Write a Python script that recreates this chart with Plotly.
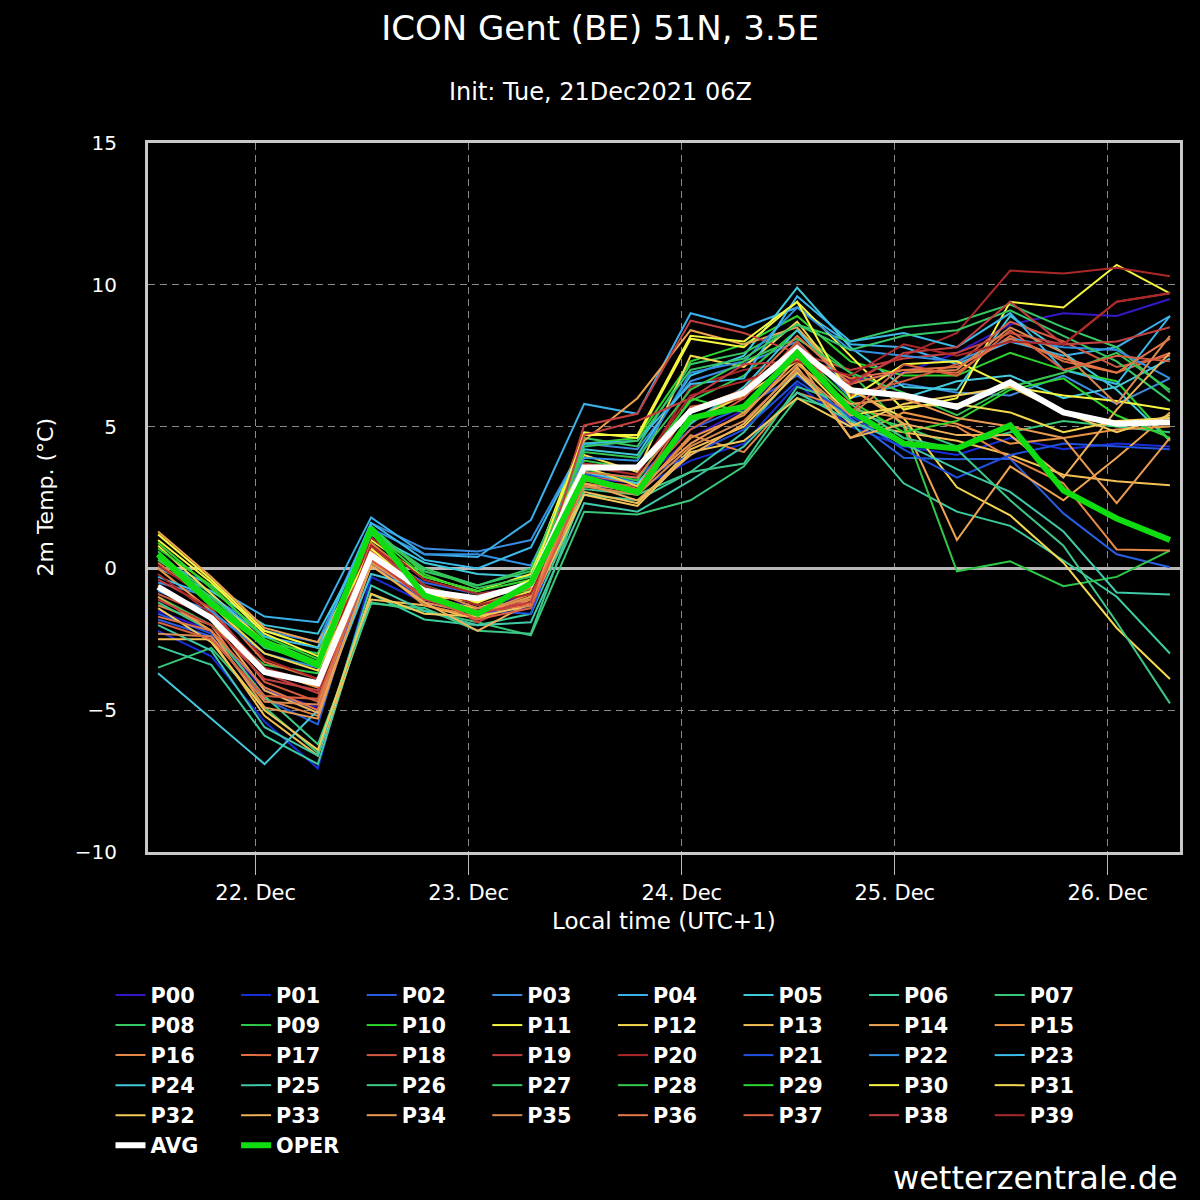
import plotly.graph_objects as go

# time steps (local time, UTC+1), 6-hourly from init + 6h
times = [
    "2021-12-21 13:00", "2021-12-21 19:00", "2021-12-22 01:00", "2021-12-22 07:00",
    "2021-12-22 13:00", "2021-12-22 19:00", "2021-12-23 01:00", "2021-12-23 07:00",
    "2021-12-23 13:00", "2021-12-23 19:00", "2021-12-24 01:00", "2021-12-24 07:00",
    "2021-12-24 13:00", "2021-12-24 19:00", "2021-12-25 01:00", "2021-12-25 07:00",
    "2021-12-25 13:00", "2021-12-25 19:00", "2021-12-26 01:00", "2021-12-26 07:00",
]

tick_vals = ["2021-12-22", "2021-12-23", "2021-12-24", "2021-12-25", "2021-12-26"]
tick_text = ["22. Dec", "23. Dec", "24. Dec", "25. Dec", "26. Dec"]

# ensemble members, 2m temperature in degC
P00 = [-1.5, -2.2, -4.3, -4.9, 0.3, -1.0, -1.4, -0.9, 3.2, 3.0, 4.6, 5.6, 7.4, 6.6, 6.9, 7.6, 8.6, 9.0, 8.9, 9.5]
P01 = [-2.2, -3.1, -5.4, -7.05, -0.3, -1.2, -1.6, -1.4, 2.9, 2.8, 3.8, 4.4, 6.5, 5.0, 4.3, 4.0, 4.6, 4.2, 4.4, 4.3]
P02 = [-1.8, -2.4, -4.6, -5.5, 0.6, -0.5, -0.9, -0.6, 3.4, 3.2, 4.9, 5.7, 6.8, 5.3, 3.9, 3.85, 3.87, 1.94, 0.5, 0.04]
P03 = [-0.5, -1.0, -2.2, -2.6, 1.6, 0.7, 0.6, 1.0, 4.4, 4.2, 6.6, 7.2, 8.0, 6.0, 6.5, 6.2, 6.1, 6.8, 5.8, 6.7]
P04 = [0.3, -0.6, -1.7, -1.9, 1.8, 0.5, 0.4, 1.7, 5.8, 5.45, 9.0, 8.5, 9.2, 7.9, 7.8, 7.2, 8.0, 7.5, 7.8, 8.9]
P05 = [0.0, -0.8, -2.0, -2.3, 1.2, 0.2, -0.2, -0.3, 4.2, 4.0, 6.8, 7.5, 9.9, 7.8, 6.4, 6.3, 8.9, 7.6, 6.3, 4.5]
P06 = [-2.75, -3.4, -5.9, -6.9, -0.9, -1.8, -2.0, -1.6, 2.6, 2.4, 3.4, 4.8, 7.0, 5.2, 3.0, 2.0, 1.5, 0.28, -1.0, -3.0]
P07 = [-3.5, -2.8, -4.9, -6.5, -1.2, -1.5, -1.9, -2.36, 2.0, 1.9, 2.4, 3.6, 6.0, 5.5, 5.0, 4.3, 4.8, 5.2, 5.0, 4.8]
P08 = [0.5, -0.9, -2.6, -3.0, 1.3, 0.0, -0.6, -0.1, 4.6, 4.3, 7.2, 7.6, 8.6, 8.0, 8.5, 8.7, 9.3, 8.5, 7.8, 6.2]
P09 = [-1.0, -2.0, -3.4, -3.7, 0.9, -0.6, -1.2, -0.4, 3.8, 3.5, 5.9, 6.8, 8.4, 6.9, 5.0, -0.1, 0.25, -0.63, -0.3, 0.63]
P10 = [0.9, -0.7, -2.4, -3.2, 1.5, -0.2, -0.9, -0.8, 4.4, 4.6, 7.3, 7.9, 8.9, 7.3, 6.8, 6.8, 7.6, 7.0, 6.6, 4.5]
P11 = [1.2, -0.4, -2.2, -2.8, 1.0, -0.3, -0.8, -0.2, 4.8, 4.6, 8.1, 7.8, 9.4, 7.5, 5.6, 6.0, 9.4, 9.2, 10.7, 9.7]
P12 = [0.8, -0.9, -2.6, -3.4, 0.7, -0.9, -1.2, -0.5, 4.0, 3.4, 7.5, 7.1, 8.7, 6.3, 5.3, 2.86, 1.87, 0.2, -2.1, -3.9]
P13 = [-2.5, -2.5, -5.2, -6.6, -1.1, -1.3, -1.8, -1.0, 2.7, 2.3, 4.2, 5.0, 6.9, 5.1, 4.8, 4.5, 4.0, 3.3, 3.07, 2.93]
P14 = [1.3, -0.3, -2.1, -2.6, 0.4, -1.1, -1.0, -0.7, 4.5, 6.0, 8.4, 7.9, 8.5, 6.4, 5.1, 1.0, 3.6, 2.4, 3.9, 5.5]
P15 = [0.0, -1.5, -3.6, -4.2, 0.2, -1.3, -1.7, -1.1, 3.0, 2.7, 4.6, 5.4, 7.4, 4.6, 5.5, 5.1, 4.4, 4.6, 4.9, 5.0]
P16 = [-1.3, -2.0, -4.6, -5.2, 0.3, -1.2, -1.6, -0.9, 2.9, 2.6, 4.7, 4.1, 6.2, 5.6, 5.3, 5.0, 3.9, 3.0, 0.67, 0.63]
P17 = [0.2, -1.2, -3.3, -3.9, 0.9, -0.6, -1.3, -0.7, 3.3, 3.0, 5.2, 6.2, 7.6, 6.7, 7.0, 6.9, 8.2, 7.3, 6.9, 7.6]
P18 = [-0.9, -1.7, -4.0, -4.7, 0.6, -0.9, -1.5, -1.2, 3.1, 2.9, 4.9, 6.0, 8.0, 6.1, 6.6, 7.2, 8.7, 8.0, 7.1, 7.5]
P19 = [-0.4, -1.4, -3.7, -4.4, 0.8, -0.8, -1.9, -1.0, 5.04, 5.45, 8.74, 8.3, 7.6, 7.0, 7.4, 7.6, 8.3, 7.9, 9.4, 9.7]
P20 = [0.1, -1.1, -3.2, -3.9, 1.1, -0.4, -0.9, -0.6, 3.6, 3.3, 6.4, 7.0, 7.3, 6.6, 7.5, 8.3, 10.5, 10.4, 10.6, 10.3]
P21 = [-1.6, -2.3, -4.2, -5.1, 0.2, -1.1, -1.5, -1.6, 3.3, 3.1, 4.0, 4.9, 6.6, 5.4, 4.2, 3.2, 4.0, 4.4, 4.3, 4.2]
P22 = [-0.8, -1.5, -3.0, -3.5, 1.4, 0.5, 0.5, 0.1, 3.9, 3.8, 6.9, 7.3, 9.2, 7.7, 7.5, 7.3, 8.1, 7.8, 7.7, 6.7]
P23 = [-0.3, -1.0, -2.4, -2.8, 1.6, 0.3, 0.0, 0.74, 4.4, 4.5, 6.5, 6.7, 9.6, 8.0, 8.3, 7.8, 9.0, 7.0, 6.5, 8.9]
P24 = [-3.7, -5.3, -6.9, -5.0, -0.2, -0.7, -1.1, -0.5, 3.4, 3.0, 5.1, 6.4, 8.4, 6.3, 6.0, 6.6, 6.8, 6.0, 6.4, 7.4]
P25 = [-2.0, -2.9, -5.6, -6.6, -0.6, -1.5, -2.0, -1.9, 2.3, 2.0, 3.1, 4.3, 6.2, 5.2, 4.4, 3.5, 2.7, 1.3, -0.85, -0.92]
P26 = [-1.2, -2.2, -4.5, -6.2, -1.24, -1.4, -2.2, -2.3, 2.8, 2.6, 3.4, 3.7, 6.4, 5.8, 4.6, 4.2, 2.4, 0.8, -1.9, -4.76]
P27 = [0.6, -1.1, -2.8, -3.3, 1.4, -0.1, -0.6, 0.0, 4.3, 4.5, 7.0, 7.4, 8.6, 7.7, 8.2, 8.4, 9.1, 8.2, 7.3, 5.9]
P28 = [0.3, -1.0, -2.7, -3.4, 1.2, 0.0, -0.7, -0.3, 4.1, 3.9, 6.3, 7.3, 8.1, 6.9, 6.2, 5.4, 6.4, 6.9, 7.6, 6.3]
P29 = [0.7, -0.6, -2.5, -3.3, 1.3, -0.3, -0.8, -0.4, 3.5, 3.1, 6.0, 5.5, 7.7, 5.9, 4.8, 5.2, 6.3, 6.7, 5.4, 4.6]
P30 = [1.0, -0.5, -2.3, -3.1, 0.7, -0.9, -1.2, -0.4, 4.7, 4.7, 8.2, 8.0, 9.4, 6.0, 7.2, 7.3, 6.4, 6.1, 5.9, 5.6]
P31 = [0.4, -1.3, -3.0, -3.6, 0.4, -1.1, -1.4, -0.8, 3.6, 2.9, 5.2, 6.1, 7.3, 5.4, 5.7, 5.8, 5.5, 4.8, 5.2, 5.3]
P32 = [-1.4, -2.6, -5.0, -6.4, -0.9, -1.6, -1.7, -1.3, 2.6, 2.2, 4.1, 4.5, 6.0, 5.0, 5.8, 6.1, 6.4, 5.5, 4.8, 5.4]
P33 = [-0.6, -1.8, -4.3, -5.1, 0.1, -1.2, -2.2, -1.2, 3.0, 2.4, 4.0, 5.1, 7.1, 4.6, 5.1, 4.7, 4.7, 3.2, 5.6, 7.6]
P34 = [-1.0, -2.2, -4.9, -5.3, 0.2, -1.0, -1.6, -1.0, 3.2, 2.8, 4.4, 5.5, 7.2, 5.8, 6.0, 5.3, 5.0, 4.6, 2.3, 4.6]
P35 = [-2.3, -2.4, -4.7, -4.8, 0.5, -0.7, -1.4, -1.1, 2.9, 2.6, 4.3, 5.2, 7.0, 5.4, 6.9, 7.0, 8.5, 7.6, 5.8, 8.2]
P36 = [-1.7, -2.2, -4.2, -5.0, 0.6, -0.9, -1.5, -1.3, 3.4, 3.2, 5.6, 6.3, 8.2, 6.5, 7.0, 7.1, 8.1, 7.4, 6.9, 8.1]
P37 = [-1.9, -2.5, -4.5, -4.6, 0.3, -1.0, -1.8, -1.4, 3.1, 2.8, 5.7, 6.0, 7.9, 5.5, 7.2, 6.8, 8.4, 7.0, 7.5, 7.3]
P38 = [-1.1, -2.0, -3.9, -4.3, 0.4, -1.1, -1.6, -1.2, 4.7, 5.2, 6.0, 7.2, 7.3, 6.5, 7.6, 7.8, 9.4, 7.9, 8.0, 8.5]
P39 = [-0.2, -1.6, -3.5, -4.1, 0.8, -0.6, -1.3, -0.9, 3.7, 3.5, 6.1, 6.6, 7.3, 6.8, 7.9, 7.5, 8.0, 7.9, 9.4, 9.7]

AVG = [-0.65, -1.75, -3.65, -4.05, 0.46, -0.8, -1.06, -0.55, 3.56, 3.56, 5.55, 6.2, 7.76, 6.28, 6.1, 5.7, 6.56, 5.5, 5.1, 5.15]
OPER = [0.5, -1.25, -2.65, -3.4, 1.4, -0.95, -1.6, -0.53, 3.2, 2.68, 5.3, 5.7, 7.6, 5.57, 4.4, 4.23, 5.04, 2.75, 1.76, 1.0]

members = [P00, P01, P02, P03, P04, P05, P06, P07, P08, P09,
           P10, P11, P12, P13, P14, P15, P16, P17, P18, P19,
           P20, P21, P22, P23, P24, P25, P26, P27, P28, P29,
           P30, P31, P32, P33, P34, P35, P36, P37, P38, P39]
member_names = ["P%02d" % i for i in range(len(members))]

colors = [
    "#3318c8", "#1a2ed8", "#2a5ee0", "#3a8ce0", "#3cb0ea", "#40cadc", "#3ccca0",
    "#38c878", "#36c862", "#30c848", "#2ed42e", "#f6f640", "#f4d850", "#f2c055",
    "#eea450", "#ea9445", "#e48848", "#e27040", "#d45a40", "#c44040", "#ac2828",
    "#2050e0", "#3290e0", "#3cbcea", "#44cadc", "#40c8a8", "#3cc888", "#36c868",
    "#34c852", "#2ed42e", "#f6f640", "#f4d850", "#f2c858", "#eeb058", "#ea9a50",
    "#d88a50", "#e27848", "#d86040", "#c44040", "#ac2828",
]

FONT = "DejaVu Sans, Verdana, sans-serif"

fig = go.Figure()
for name, vals, col in zip(member_names, members, colors):
    fig.add_trace(go.Scatter(x=times, y=vals, mode="lines", name=name,
                             line=dict(color=col, width=2)))
fig.add_trace(go.Scatter(x=times, y=AVG, mode="lines", name="AVG",
                         line=dict(color="white", width=6)))
fig.add_trace(go.Scatter(x=times, y=OPER, mode="lines", name="OPER",
                         line=dict(color="#10dd10", width=6)))

fig.update_layout(
    width=1200, height=1200,
    paper_bgcolor="black", plot_bgcolor="black",
    margin=dict(l=148, r=20, t=143, b=348),
    font=dict(family=FONT, color="white", size=20),
    title=dict(text="ICON Gent (BE) 51N, 3.5E", x=0.5, xref="container", xanchor="center",
               y=1 - 28 / 1200, yanchor="middle", font=dict(size=34, color="white")),
    showlegend=True,
    # centred inside the plot-area range so that only 8 entries fit per row
    legend=dict(orientation="h", x=(613 - 148) / 1032, xanchor="center",
                y=-(975 - 852) / 709, yanchor="top",
                font=dict(size=20.8, color="white", family=FONT, weight="bold"),
                entrywidth=80.6, entrywidthmode="pixels", bgcolor="rgba(0,0,0,0)",
                traceorder="normal"),
    xaxis=dict(type="date", range=["2021-12-21 11:52", "2021-12-26 08:08"],
               tickvals=tick_vals, ticktext=tick_text,
               ticks="outside", ticklen=20, tickcolor="#bbbbbb", tickwidth=1,
               tickfont=dict(size=21, color="white"),
               showgrid=True, gridcolor="#8a8a8a", griddash="7px,5px", gridwidth=1,
               showline=True, linecolor="#c8c8c8", linewidth=3, mirror=True,
               zeroline=False, fixedrange=True),
    yaxis=dict(range=[-10, 15], tickvals=[-10, -5, 0, 5, 10, 15],
               ticks="outside", ticklen=24, tickcolor="rgba(0,0,0,0)",
               tickfont=dict(size=20, color="white"),
               showgrid=True, gridcolor="#8a8a8a", griddash="7px,5px", gridwidth=1,
               showline=True, linecolor="#c8c8c8", linewidth=3, mirror=True,
               zeroline=True, zerolinecolor="#b8b8b8", zerolinewidth=3,
               fixedrange=True),
    annotations=[
        dict(text="Init: Tue, 21Dec2021 06Z", xref="paper", yref="paper",
             x=(600 - 148) / 1032, y=(852 - 92) / 709, xanchor="center", yanchor="middle",
             showarrow=False, font=dict(size=24, color="white")),
        dict(text="Local time (UTC+1)", xref="paper", yref="paper",
             x=0.5, y=(852 - 921) / 709, xanchor="center", yanchor="middle",
             showarrow=False, font=dict(size=23, color="white")),
        dict(text="2m Temp. (°C)", xref="paper", yref="paper", textangle=-90,
             x=(45 - 148) / 1032, y=0.5, xanchor="center", yanchor="middle",
             showarrow=False, font=dict(size=22, color="white")),
        dict(text="wetterzentrale.de", xref="paper", yref="paper",
             x=1.0, y=(852 - 1178) / 709, xanchor="right", yanchor="middle",
             showarrow=False, font=dict(size=32, color="white")),
    ],
)

fig.write_html("out.html", config={"displayModeBar": False},
               post_script="document.body.style.margin='0px';")
